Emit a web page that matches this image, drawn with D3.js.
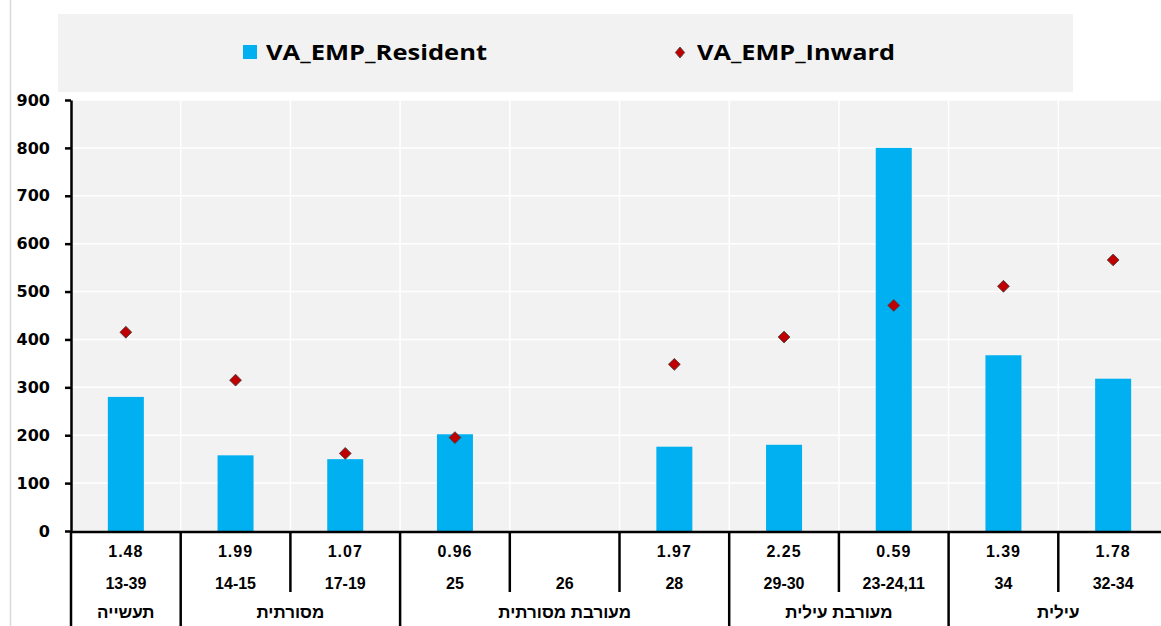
<!DOCTYPE html>
<html><head><meta charset="utf-8">
<script src="https://cdn.jsdelivr.net/npm/d3@7"></script>
<style>
html,body{margin:0;padding:0;background:#fff;overflow:hidden;}
svg{display:block;}
</style></head>
<body>
<svg id="chart" width="1161" height="626"></svg>
<script>
const categories = ["13-39","14-15","17-19","25","26","28","29-30","23-24,11","34","32-34"];
const ratios = ["1.48","1.99","1.07","0.96","","1.97","2.25","0.59","1.39","1.78"];
const groups = ["תעשייה","מסורתית","מסורתית","מעורבת מסורתית","מעורבת מסורתית","מעורבת מסורתית","מעורבת עילית","מעורבת עילית","עילית","עילית"];
const residentValues = [280,158,150,202,null,176,180,800,367,318];
const inwardValues = [415,315,162,195,null,348,405,471,511,566];
const yTicks = [0,100,200,300,400,500,600,700,800,900];
const seriesNames = ["VA_EMP_Resident","VA_EMP_Inward"];

(function(){
const svg = d3.select("#chart");
const pL = 71, pR = 1168, pT = 100, pB = 531;
const x = d3.scaleBand().domain(categories).range([pL,pR]).padding(0);
const y = d3.scaleLinear().domain([0,900]).range([pB,pT]);
const bw = x.bandwidth();
const barW = 36;

// left thin border
svg.append("line").attr("x1",10.5).attr("x2",10.5).attr("y1",0).attr("y2",626).attr("stroke","#d9d9d9").attr("stroke-width",1.5);

// legend
svg.append("rect").attr("x",58).attr("y",14).attr("width",1015).attr("height",78).attr("fill","#f2f2f2");
svg.append("rect").attr("x",243).attr("y",45).attr("width",14).attr("height",14).attr("fill","#00b0f0");
svg.append("text").attr("x",266).attr("y",60).text(seriesNames[0])
  .attr("textLength",221).attr("lengthAdjust","spacingAndGlyphs")
  .attr("font-family","Open Sans").attr("font-weight","bold").attr("font-size",21.5).attr("fill","#000");
svg.append("path").attr("d",d3.symbol(d3.symbolSquare,60)())
  .attr("transform","translate(680,52.5) scale(0.85,1) rotate(45)")
  .attr("fill","#c00000").attr("stroke","#404040").attr("stroke-width",0.8);
svg.append("text").attr("x",697).attr("y",60).text(seriesNames[1])
  .attr("textLength",198).attr("lengthAdjust","spacingAndGlyphs")
  .attr("font-family","Open Sans").attr("font-weight","bold").attr("font-size",21.5).attr("fill","#000");

// plot background
svg.append("rect").attr("x",pL).attr("y",pT).attr("width",pR-pL).attr("height",pB-pT).attr("fill","#f2f2f2");
// gridlines
svg.append("g").selectAll("line").data(yTicks.filter(d=>d>0)).join("line")
  .attr("x1",pL).attr("x2",pR).attr("y1",d=>y(d)).attr("y2",d=>y(d))
  .attr("stroke","#fff").attr("stroke-width",1.5);
svg.append("g").selectAll("line").data(categories.slice(1)).join("line")
  .attr("x1",d=>x(d)).attr("x2",d=>x(d)).attr("y1",pT).attr("y2",pB)
  .attr("stroke","#fff").attr("stroke-width",1.5);

// bars
svg.append("g").selectAll("rect").data(categories.map((c,i)=>({c,v:residentValues[i]})).filter(d=>d.v!=null)).join("rect")
  .attr("x",d=>x(d.c)+(bw-barW)/2).attr("width",barW)
  .attr("y",d=>y(d.v)).attr("height",d=>y(0)-y(d.v)).attr("fill","#00b0f0");

// diamonds
svg.append("g").selectAll("path").data(categories.map((c,i)=>({c,v:inwardValues[i]})).filter(d=>d.v!=null)).join("path")
  .attr("d",d3.symbol(d3.symbolSquare,70)())
  .attr("transform",d=>`translate(${x(d.c)+bw/2},${y(d.v)}) rotate(45)`)
  .attr("fill","#c00000").attr("stroke","#404040").attr("stroke-width",0.8);

// y axis
const yAxis = d3.axisLeft(y).tickValues(yTicks).tickSize(6).tickSizeOuter(0).tickPadding(15);
const ga = svg.append("g").attr("transform",`translate(${pL},0)`).call(yAxis);
ga.select(".domain").attr("stroke","#000").attr("stroke-width",2.5);
ga.selectAll(".tick line").attr("stroke","#000").attr("stroke-width",2.5);
ga.selectAll(".tick text").attr("font-family","DejaVu Sans").attr("font-weight","bold").attr("font-size",16).attr("fill","#000");

// x axis line
svg.append("line").attr("x1",pL-1).attr("x2",pR).attr("y1",pB+1).attr("y2",pB+1).attr("stroke","#000").attr("stroke-width",2.5);

// table
const tbl = svg.append("g").attr("font-family","Liberation Sans").attr("font-weight","bold").attr("font-size",16).attr("text-anchor","middle").attr("fill","#000");
tbl.selectAll("text.r").data(categories).join("text").attr("class","r")
  .attr("x",d=>x(d)+bw/2).attr("y",557).attr("letter-spacing",1).text((d,i)=>ratios[i]);
tbl.selectAll("text.c").data(categories).join("text").attr("class","c")
  .attr("x",d=>x(d)+bw/2).attr("y",589).text(d=>d);
const spans = [];
categories.forEach((c,i)=>{
  if(i===0 || groups[i]!==groups[i-1]) spans.push({g:groups[i],start:c,end:c});
  else spans[spans.length-1].end=c;
});
tbl.selectAll("text.g").data(spans).join("text").attr("class","g")
  .attr("x",d=>(x(d.start)+x(d.end)+bw)/2).attr("y",618).attr("font-size",17).attr("direction","rtl").text(d=>d.g);

// separators
const groupStarts = new Set(spans.map(s=>s.start));
svg.append("g").selectAll("line").data(categories).join("line")
  .attr("x1",d=>x(d)).attr("x2",d=>x(d))
  .attr("y1",pB).attr("y2",d=>groupStarts.has(d)?626:592)
  .attr("stroke","#000").attr("stroke-width",2.5);
})();
</script>
</body></html>
